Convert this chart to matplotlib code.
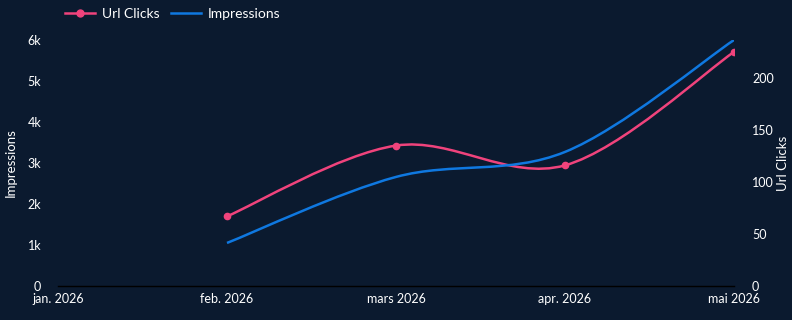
import matplotlib
matplotlib.use("Agg")
import matplotlib.pyplot as plt
from matplotlib.path import Path
from matplotlib.patches import PathPatch
from matplotlib.lines import Line2D
import numpy as np

plt.rcParams['font.family'] = ['Lato', 'DejaVu Sans']

months = ["jan. 2026", "feb. 2026", "mars 2026", "apr. 2026", "mai 2026"]
impr_x = [1, 2, 3, 4]
impressions = [1050, 2660, 3270, 6000]
click_x = [1, 2, 3, 4]
url_clicks = [67, 135, 116, 225]
left_ticks = [0, 1000, 2000, 3000, 4000, 5000, 6000]
left_labels = ["0", "1k", "2k", "3k", "4k", "5k", "6k"]
right_ticks = [0, 50, 100, 150, 200]

BG = "#0b1a2f"
PINK = "#f0437c"
BLUE = "#0f78e0"
TXT = "#ffffff"


def smooth_path(xs, ys):
    xs = np.asarray(xs, float)
    ys = np.asarray(ys, float)
    px = np.concatenate([[xs[0]], xs, [xs[-1]]])
    py = np.concatenate([[ys[0]], ys, [ys[-1]]])
    verts = [(xs[0], ys[0])]
    codes = [Path.MOVETO]
    for i in range(1, len(px) - 2):
        c1 = (px[i] + (px[i + 1] - px[i - 1]) / 6, py[i] + (py[i + 1] - py[i - 1]) / 6)
        c2 = (px[i + 1] - (px[i + 2] - px[i]) / 6, py[i + 1] - (py[i + 2] - py[i]) / 6)
        verts += [c1, c2, (px[i + 1], py[i + 1])]
        codes += [Path.CURVE4] * 3
    return Path(verts, codes)


fig = plt.figure(figsize=(7.92, 3.2), dpi=100, facecolor=BG)
ax = fig.add_axes([58 / 792, 34 / 320, (734 - 58) / 792, (286 - 40) / 320])
ax2 = ax.twinx()
ax.set_zorder(ax2.get_zorder() + 1)
ax.patch.set_visible(False)
ax2.set_facecolor(BG)

ax.set_xlim(0, 4)
ax.set_ylim(0, 6000)
ax2.set_ylim(0, 236.5)

ax2.add_patch(PathPatch(smooth_path(click_x, url_clicks), fill=False, edgecolor=PINK, lw=1.8))
ax2.plot(click_x, url_clicks, 'o', color=PINK, ms=4.5, zorder=3)
ax.add_patch(PathPatch(smooth_path(impr_x, impressions), fill=False, edgecolor=BLUE, lw=1.8))

ax.set_xticks(range(len(months)))
ax.set_xticklabels(months)
ax.set_yticks(left_ticks)
ax.set_yticklabels(left_labels)
ax2.set_yticks(right_ticks)

for a in (ax, ax2):
    for s in a.spines.values():
        s.set_visible(False)
    a.tick_params(colors=TXT, labelsize=9, length=0)
ax.tick_params(axis='y', pad=12)
ax.tick_params(axis='x', pad=5)
ax2.tick_params(axis='y', pad=13)
ax.spines['bottom'].set_visible(True)
ax.spines['bottom'].set_color('#000000')
ax.spines['bottom'].set_linewidth(1)

ax.set_ylabel("Impressions", color=TXT, fontsize=9.5, labelpad=8)
ax2.set_ylabel("Url Clicks", color=TXT, fontsize=9.5, labelpad=2)

handles = [
    Line2D([0], [0], color=PINK, lw=1.8, marker='o', ms=5),
    Line2D([0], [0], color=BLUE, lw=1.8),
]
leg = fig.legend(handles, ["Url Clicks", "Impressions"], loc='upper left',
                 bbox_to_anchor=(52 / 792, 1.015), ncol=2, frameon=False,
                 fontsize=10, handlelength=2.2, handletextpad=0.5, columnspacing=0.8)
for t in leg.get_texts():
    t.set_color(TXT)

fig.savefig("out.png", dpi=100, facecolor=BG)
